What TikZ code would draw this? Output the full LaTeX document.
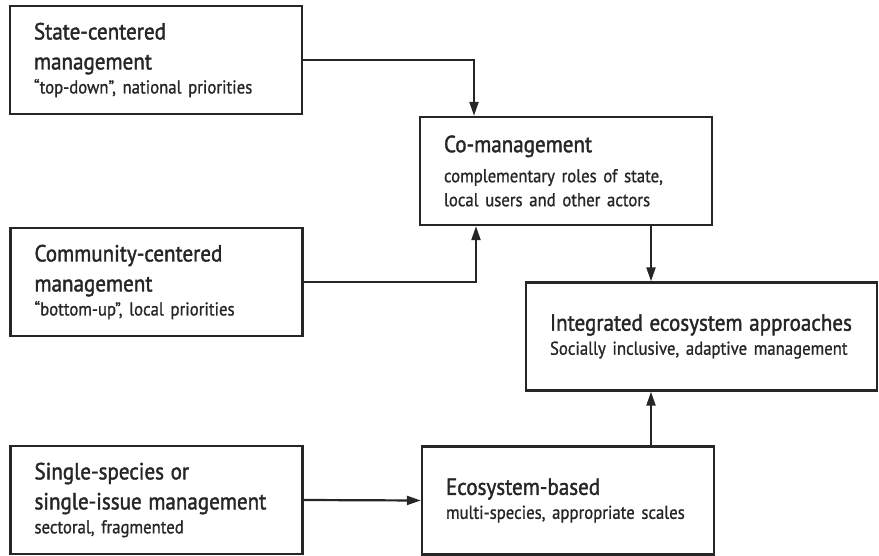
\documentclass[tikz,border=0pt]{standalone}
\usepackage{fontspec}
\setmainfont{PT Sans}[FakeStretch=0.9]
\newfontfamily\titlefamily{PT Sans}[FakeStretch=0.9,FakeBold=1.6]
\newfontfamily\subfamily{PT Sans}[FakeStretch=0.9,FakeBold=1.0]
\usetikzlibrary{arrows.meta,positioning}
\definecolor{ink}{RGB}{38,38,38}
\newcommand{\boxtitle}{\titlefamily\fontsize{11.7}{15}\selectfont}
\newcommand{\boxsub}{\subfamily\fontsize{9.3}{15}\selectfont}
\tikzset{
  box/.style={draw=ink,line width=1.2pt,align=left,inner xsep=12pt,inner ysep=0pt,
    minimum height=54pt,text width=122pt,text=ink},
  widebox/.style={box,text width=151.5pt},
  flow/.style={-{Triangle[length=7pt,width=4.5pt]},line width=1.1pt,draw=ink},
}
\begin{document}
\begin{tikzpicture}[x=0.5pt,y=-0.5pt]
    \useasboundingbox (0,0) rectangle (879,556);
    % management styles, left column
    \node[box] (state) at (156,60) {\boxtitle State-centered\\management\\\boxsub “top-down”, national priorities};
    \node[box] (comm) at (156.5,282) {\boxtitle Community-centered\\management\\\boxsub “bottom-up”, local priorities};
    \node[box] (single) at (156.5,500) {\boxtitle Single-species or\\single-issue management\\\boxsub sectoral, fragmented};

    % combined approaches
    \node[box] (co) at (566,171) {\boxtitle Co-management\\\boxsub complementary roles of state,\\local users and other actors};
    \node[box] (eco) at (568,500.5) {\boxtitle Ecosystem-based\\\boxsub multi-species, appropriate scales};
    \node[widebox] (integ) at (701.5,336.5) {\boxtitle Integrated ecosystem approaches\\\boxsub Socially inclusive, adaptive management};

    \draw[flow] (state.east) -| ([xshift=-46pt]co.north);
    \draw[flow] (comm.east) -| ([xshift=-45pt]co.south);
    \draw[flow] (single.east) -- (eco.west);
    \draw[flow] ([xshift=42.5pt]co.south) -- ([xshift=42.5pt]co.south |- integ.north);
    \draw[flow] ([xshift=41.5pt]eco.north) -- ([xshift=41.5pt]eco.north |- integ.south);
\end{tikzpicture}
\end{document}
